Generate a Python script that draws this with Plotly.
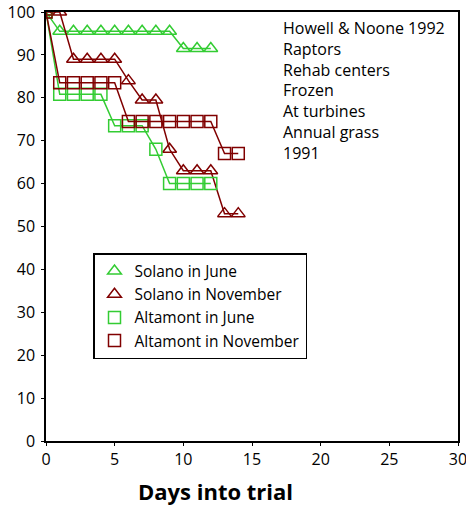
import plotly.graph_objects as go

days_solano_june = [0, 1, 2, 3, 4, 5, 6, 7, 8, 9, 10, 11, 12]
solano_june = [100, 95.5, 95.5, 95.5, 95.5, 95.5, 95.5, 95.5, 95.5, 95.5, 91.5, 91.5, 91.5]

days_solano_nov = [0, 1, 2, 3, 4, 5, 6, 7, 8, 9, 10, 11, 12, 13, 14]
solano_nov = [100, 100, 89, 89, 89, 89, 84, 79.5, 79.5, 68, 63, 63, 63, 53, 53]

days_altamont_june = [0, 1, 2, 3, 4, 5, 6, 7, 8, 9, 10, 11, 12]
altamont_june = [100, 80.8, 80.8, 80.8, 80.8, 73.5, 73.5, 73.5, 68, 60, 60, 60, 60]

days_altamont_nov = [0, 1, 2, 3, 4, 5, 6, 7, 8, 9, 10, 11, 12, 13, 14]
altamont_nov = [100, 83.5, 83.5, 83.5, 83.5, 83.5, 74.5, 74.5, 74.5, 74.5, 74.5, 74.5, 74.5, 67, 67]

x_ticks = [0, 5, 10, 15, 20, 25, 30]
y_ticks = [0, 10, 20, 30, 40, 50, 60, 70, 80, 90, 100]

note_lines = ["Howell & Noone 1992", "Raptors", "Rehab centers", "Frozen",
              "At turbines", "Annual grass", "1991"]

GREEN = "#33CC33"
DARKRED = "#800000"
FONT = "Open Sans"

L, R, T, B = 46, 8, 12, 67
PW, PH = 466 - L - R, 508 - T - B

fig = go.Figure()
series = [
    ("Solano in June", days_solano_june, solano_june, GREEN, "triangle-up-open"),
    ("Solano in November", days_solano_nov, solano_nov, DARKRED, "triangle-up-open"),
    ("Altamont in June", days_altamont_june, altamont_june, GREEN, "square-open"),
    ("Altamont in November", days_altamont_nov, altamont_nov, DARKRED, "square-open"),
]
for name, xs, ys, col, sym in series:
    fig.add_trace(go.Scatter(
        x=xs, y=ys, name=name, mode="lines+markers", showlegend=False,
        line=dict(color=col, width=1.5),
        marker=dict(symbol=sym, size=12, color=col, line=dict(color=col, width=1.5)),
    ))
# legend entries show the marker only, as in the reference
for name, xs, ys, col, sym in series:
    fig.add_trace(go.Scatter(
        x=[None], y=[None], name=name, mode="markers", showlegend=True,
        marker=dict(symbol=sym, size=12, color=col, line=dict(color=col, width=1.5)),
    ))

fig.add_annotation(
    text="<br>".join(note_lines), xref="paper", yref="paper",
    x=(281 - L) / PW, y=1 - (15 - T) / PH, xanchor="left", yanchor="top",
    align="left", showarrow=False, font=dict(family=FONT, size=16, color="#000"),
)
fig.add_annotation(
    text="<b>Days into trial</b>", xref="paper", yref="paper",
    x=(215 - L) / PW, y=-(491 - (T + PH)) / PH, xanchor="center", yanchor="middle",
    showarrow=False, font=dict(family=FONT, size=22, color="#000"),
)

fig.update_layout(
    width=466, height=508,
    margin=dict(l=L, r=R, t=T, b=B, autoexpand=False),
    paper_bgcolor="white", plot_bgcolor="white",
    font=dict(family=FONT, size=15, color="#000"),
    showlegend=True,
    legend=dict(
        x=(93 - L) / PW, y=(T + PH - 253) / PH, xanchor="left", yanchor="top",
        bordercolor="#000", borderwidth=1.5, bgcolor="white",
        font=dict(family=FONT, size=15.5, color="#000"),
        tracegroupgap=0, itemwidth=30,
    ),
    xaxis=dict(
        range=[0, 30], tickvals=x_ticks, showgrid=False, zeroline=False,
        showline=True, linecolor="#000", linewidth=1.5, mirror=True,
        ticks="outside", ticklen=3, tickcolor="#000", automargin=False,
        ticklabeloverflow="allow",
        tickfont=dict(family=FONT, size=16, color="#000"),
    ),
    yaxis=dict(
        range=[0, 100], tickvals=y_ticks, showgrid=False, zeroline=False,
        showline=True, linecolor="#000", linewidth=1.5, mirror=True,
        ticks="outside", ticklen=3, tickcolor="#000", automargin=False,
        ticklabeloverflow="allow", ticklabelstandoff=3,
        tickfont=dict(family=FONT, size=16, color="#000"),
    ),
)

fig.write_html("out.html", config={"displayModeBar": False},
               post_script="document.body.style.margin='0';")
